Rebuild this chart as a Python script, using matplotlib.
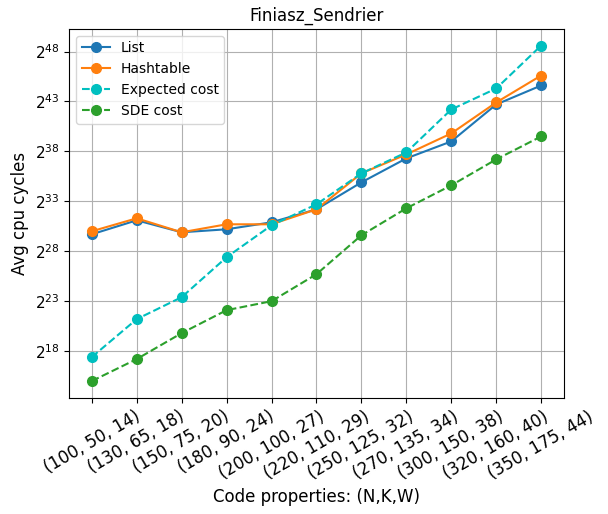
import matplotlib
matplotlib.use("Agg")
import matplotlib.pyplot as plt

# code parameters (N, K, W)
params = ["(100, 50, 14)", "(130, 65, 18)", "(150, 75, 20)", "(180, 90, 24)",
          "(200, 100, 27)", "(220, 110, 29)", "(250, 125, 32)", "(270, 135, 34)",
          "(300, 150, 38)", "(320, 160, 40)", "(350, 175, 44)"]

# log2 of avg cpu cycles
list_log2 = [29.7, 31.1, 29.9, 30.2, 30.9, 32.2, 34.9, 37.3, 39.0, 42.7, 44.6]
hash_log2 = [30.0, 31.3, 29.9, 30.7, 30.7, 32.2, 35.8, 37.7, 39.8, 42.9, 45.6]
expected_log2 = [17.4, 21.2, 23.4, 27.4, 30.6, 32.7, 35.8, 37.9, 42.2, 44.3, 48.6]
sde_log2 = [15.0, 17.2, 19.8, 22.1, 23.0, 25.7, 29.6, 32.3, 34.6, 37.2, 39.5]

ytick_exp = [18, 23, 28, 33, 38, 43, 48]

fig, ax = plt.subplots(figsize=(6.08, 5.14), dpi=100)
fig.subplots_adjust(left=0.114, right=0.927, top=0.944, bottom=0.226)

x = list(range(len(params)))
ax.plot(x, [2 ** v for v in list_log2], "o-", color="tab:blue", ms=7, label="List")
ax.plot(x, [2 ** v for v in hash_log2], "o-", color="tab:orange", ms=7, label="Hashtable")
ax.plot(x, [2 ** v for v in expected_log2], "o--", color="c", ms=7, label="Expected cost")
ax.plot(x, [2 ** v for v in sde_log2], "o--", color="tab:green", ms=7, label="SDE cost")

ax.set_yscale("log", base=2)
ax.set_yticks([2 ** e for e in ytick_exp])
ax.set_yticklabels([r"$\mathdefault{2^{%d}}$" % e for e in ytick_exp], fontsize=11)
ax.minorticks_off()
ax.set_xticks(x)
ax.set_xticklabels(params, rotation=30, fontsize=12)

ax.set_title("Finiasz_Sendrier", fontsize=12)
ax.set_xlabel("Code properties: (N,K,W)", fontsize=12)
ax.set_ylabel("Avg cpu cycles", fontsize=12)
ax.grid(True)
ax.legend(loc="upper left", fontsize=10)

fig.savefig("out.png")
